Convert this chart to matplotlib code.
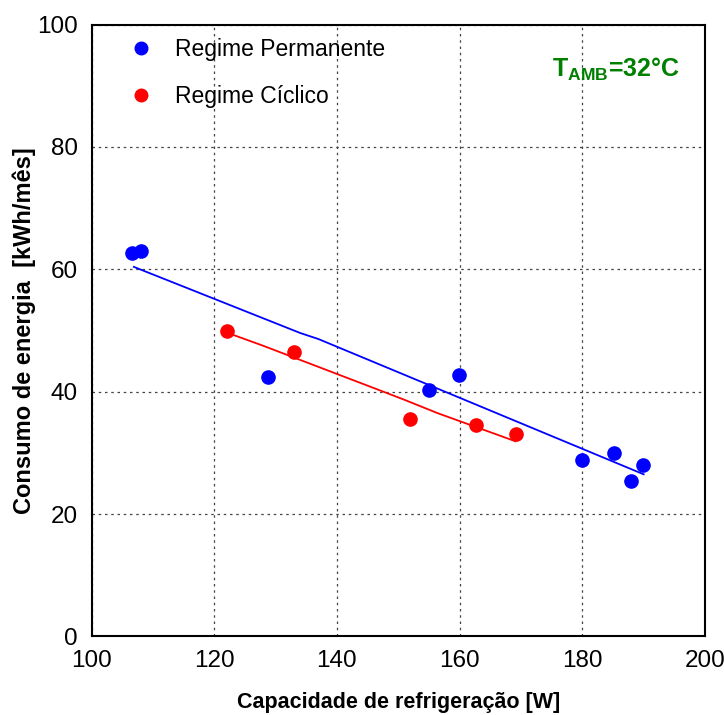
import matplotlib
matplotlib.use('Agg')
import matplotlib.pyplot as plt

plt.rcParams['font.family'] = ['Liberation Sans', 'DejaVu Sans']
plt.rcParams['mathtext.fontset'] = 'custom'
plt.rcParams['mathtext.rm'] = 'Liberation Sans'
plt.rcParams['mathtext.bf'] = 'Liberation Sans:bold'

# dados
perm_x = [106.6, 108.1, 128.8, 155.0, 159.9, 179.9, 185.2, 187.9, 189.9]
perm_y = [62.6, 63.0, 42.4, 40.3, 42.8, 28.8, 30.0, 25.4, 28.0]
cicl_x = [122.1, 133.0, 151.9, 162.7, 169.2]
cicl_y = [50.0, 46.5, 35.6, 34.5, 33.1]

# linhas de ajuste (vertices lidos)
perm_fit_x = [106.9, 134.0, 137.0, 190.0]
perm_fit_y = [60.4, 49.6, 48.6, 26.5]
cicl_fit_x = [122.5, 128.0, 150.7, 156.4, 169.1]
cicl_fit_y = [49.5, 47.5, 38.8, 36.5, 31.9]

xticks = [100, 120, 140, 160, 180, 200]
yticks = [0, 20, 40, 60, 80, 100]

fig = plt.figure(figsize=(7.24, 7.15), dpi=100)
ax = fig.add_axes([0.1264, 0.1098, 0.8474, 0.8559])

ax.plot(perm_fit_x, perm_fit_y, color='blue', lw=1.3)
ax.plot(cicl_fit_x, cicl_fit_y, color='red', lw=1.3)
ax.plot(perm_x, perm_y, 'o', color='blue', ms=9.5, label='Regime Permanente')
ax.plot(cicl_x, cicl_y, 'o', color='red', ms=9.5, label='Regime Cíclico')

ax.set_xlim(100, 200)
ax.set_ylim(0, 100)
ax.set_xticks(xticks)
ax.set_yticks(yticks)
ax.grid(True, linestyle=(0, (2, 3)), color='#444444', lw=0.9)
ax.tick_params(length=0, labelsize=17.5, pad=10)
for s in ax.spines.values():
    s.set_linewidth(1.5)

ax.set_xlabel('Capacidade de refrigeração [W]', fontsize=15.5, fontweight='bold', labelpad=14)
ax.set_ylabel('Consumo de energia  [kWh/mês]', fontsize=17, fontweight='bold')
ax.yaxis.set_label_coords(-0.091, 0.5)

leg = ax.legend(loc='upper left', bbox_to_anchor=(0.044, 0.978), frameon=False,
                fontsize=16.5, handletextpad=0.45, labelspacing=1.05, numpoints=1,
                markerscale=0.95, borderpad=0, borderaxespad=0)

ax.text(0.959, 0.926, r'$\mathbf{T_{AMB}}$=32°C', transform=ax.transAxes,
        ha='right', va='center', color='#008000', fontsize=18, fontweight='bold')

fig.savefig('out.png', dpi=100)
